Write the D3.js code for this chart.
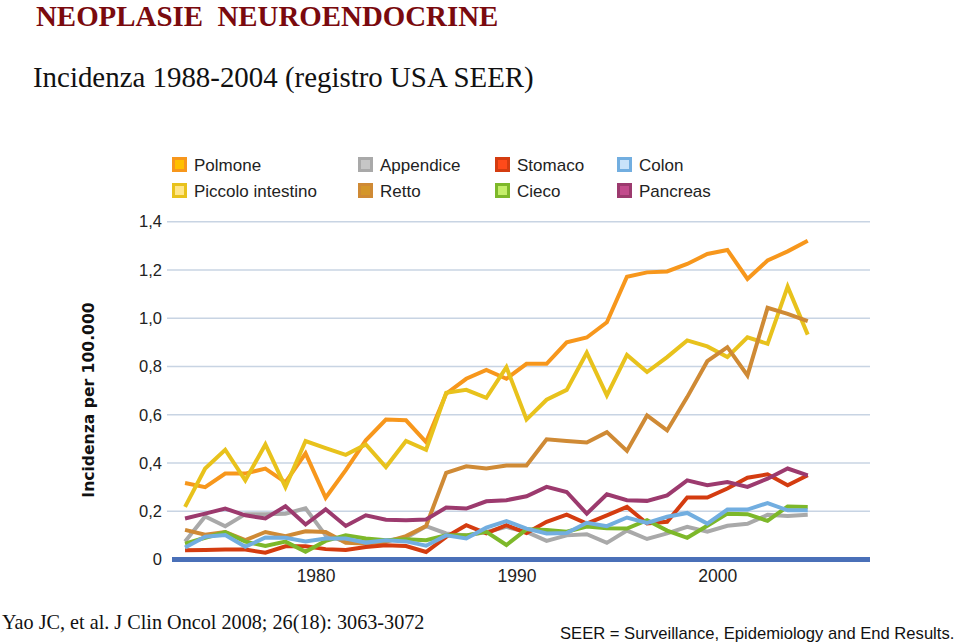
<!DOCTYPE html>
<html>
<head>
<meta charset="utf-8">
<script src="https://cdn.jsdelivr.net/npm/d3@7/dist/d3.min.js"></script>
<style>
  html, body { margin: 0; padding: 0; background: #ffffff; }
  svg { display: block; }
</style>
</head>
<body>
<svg id="chart" width="960" height="643"></svg>
<script>
// ---------- DATA ----------
const years = [1973,1974,1975,1976,1977,1978,1979,1980,1981,1982,1983,1984,1985,1986,1987,1988,
               1989,1990,1991,1992,1993,1994,1995,1996,1997,1998,1999,2000,2001,2002,2003,2004];

const seriesNames = ["Polmone","Piccolo intestino","Appendice","Retto","Stomaco","Cieco","Colon","Pancreas"];

const polmone   = [0.317,0.300,0.356,0.356,0.377,0.320,0.440,0.256,0.370,0.494,0.580,0.577,0.487,0.687,0.749,0.786,
                   0.749,0.811,0.811,0.900,0.920,0.983,1.172,1.190,1.194,1.225,1.266,1.283,1.163,1.239,1.277,1.321];
const piccolo   = [0.218,0.377,0.455,0.328,0.477,0.300,0.491,0.462,0.434,0.477,0.383,0.491,0.455,0.691,0.703,0.670,
                   0.797,0.580,0.662,0.703,0.857,0.680,0.848,0.777,0.839,0.908,0.883,0.839,0.921,0.894,1.131,0.932];
const appendice = [0.075,0.178,0.138,0.188,0.188,0.190,0.212,0.100,0.075,0.075,0.078,0.090,0.138,0.108,0.100,0.114,
                   0.135,0.114,0.077,0.100,0.105,0.069,0.120,0.085,0.108,0.135,0.115,0.140,0.148,0.185,0.180,0.185];
const retto     = [0.123,0.103,0.114,0.080,0.114,0.097,0.117,0.114,0.069,0.066,0.073,0.097,0.139,0.359,0.386,0.377,
                   0.390,0.390,0.498,0.491,0.485,0.528,0.450,0.597,0.535,0.673,0.822,0.880,0.763,1.043,1.018,0.988];
const stomaco   = [0.038,0.039,0.041,0.041,0.028,0.055,0.055,0.043,0.039,0.052,0.059,0.056,0.031,0.094,0.142,0.108,
                   0.142,0.110,0.156,0.186,0.149,0.183,0.218,0.149,0.156,0.257,0.257,0.294,0.339,0.353,0.308,0.349];
const cieco     = [0.066,0.090,0.113,0.074,0.056,0.074,0.032,0.077,0.100,0.087,0.080,0.084,0.080,0.100,0.100,0.115,
                   0.060,0.125,0.122,0.115,0.137,0.130,0.128,0.163,0.120,0.090,0.140,0.190,0.188,0.160,0.220,0.218];
const colon     = [0.050,0.094,0.101,0.053,0.091,0.090,0.075,0.087,0.087,0.070,0.080,0.075,0.057,0.100,0.087,0.132,
                   0.159,0.128,0.108,0.110,0.152,0.138,0.174,0.152,0.177,0.193,0.149,0.207,0.207,0.234,0.204,0.204];
const pancreas  = [0.170,0.190,0.211,0.183,0.170,0.221,0.145,0.208,0.139,0.183,0.165,0.163,0.166,0.215,0.211,0.241,
                   0.246,0.262,0.301,0.280,0.190,0.270,0.246,0.243,0.266,0.328,0.308,0.321,0.301,0.335,0.377,0.349];

const seriesValues = [polmone, piccolo, appendice, retto, stomaco, cieco, colon, pancreas];

const lineColors   = ["#f7971c","#e8c21c","#a9a9a9","#cf8a35","#d43c10","#7db82a","#72aee0","#9c3a6e"];
const swatchFill   = ["#ffc000","#ffe68a","#c6c6c6","#d4962a","#ff4a1a","#c4ee6a","#c9e3fa","#c24b8c"];

const yTicks      = [0, 0.2, 0.4, 0.6, 0.8, 1.0, 1.2, 1.4];
const yTickLabels = ["0","0,2","0,4","0,6","0,8","1,0","1,2","1,4"];
const xTicks      = [1980, 1990, 2000];

// ---------- SCALES ----------
const svg = d3.select("#chart");
const x = d3.scaleLinear().domain([1973, 2007.6]).range([175, 870]);
const y = d3.scaleLinear().domain([0, 1.4]).range([559.5, 221.7]);

// ---------- TITLES ----------
svg.append("text").attr("x", 36).attr("y", 26)
  .attr("font-family", "'Liberation Serif', 'Times New Roman', serif")
  .attr("font-weight", "bold").attr("font-size", 28.9).attr("fill", "#7a0a0e")
  .attr("xml:space", "preserve")
  .text("NEOPLASIE  NEUROENDOCRINE");

svg.append("text").attr("x", 33).attr("y", 87)
  .attr("font-family", "'Liberation Serif', 'Times New Roman', serif")
  .attr("font-size", 28.9).attr("fill", "#111")
  .text("Incidenza 1988-2004 (registro USA SEER)");

// ---------- GRID / Y AXIS ----------
const yAxis = d3.axisLeft(y)
  .tickValues(yTicks)
  .tickSize(0)
  .tickPadding(10)
  .tickFormat((d, i) => yTickLabels[i]);

const gy = svg.append("g").attr("transform", "translate(172,0)").call(yAxis);
gy.select(".domain").remove();
gy.selectAll("text")
  .attr("font-family", "'Liberation Sans', Arial, sans-serif")
  .attr("font-size", 16.5).attr("fill", "#222");

svg.append("g").selectAll("line")
  .data(yTicks.filter(d => d > 0))
  .join("line")
  .attr("x1", 167).attr("x2", 870)
  .attr("y1", d => y(d)).attr("y2", d => y(d))
  .attr("stroke", "#c8d4e3").attr("stroke-width", 1.5);

// ---------- Y LABEL ----------
svg.append("text")
  .attr("transform", "translate(94,400) rotate(-90)")
  .attr("text-anchor", "middle")
  .attr("font-family", "'DejaVu Sans', Verdana, sans-serif")
  .attr("font-weight", "bold").attr("font-size", 15.6).attr("fill", "#111")
  .text("Incidenza per 100.000");

// ---------- LINES ----------
const line = d3.line()
  .x((d, i) => x(years[i] + 0.5))
  .y(d => y(d));

svg.append("g").selectAll("path")
  .data(seriesValues)
  .join("path")
  .attr("d", d => line(d))
  .attr("fill", "none")
  .attr("stroke", (d, i) => lineColors[i])
  .attr("stroke-width", 4)
  .attr("stroke-linejoin", "miter")
  .attr("stroke-linecap", "butt");

// ---------- X AXIS ----------
svg.append("line")
  .attr("x1", 172).attr("x2", 870)
  .attr("y1", y(0)).attr("y2", y(0))
  .attr("stroke", "#4a70b8").attr("stroke-width", 5);

const xAxis = d3.axisBottom(x).tickValues(xTicks).tickSize(0).tickPadding(8).tickFormat(d3.format("d"));
const gx = svg.append("g").attr("transform", `translate(0,${y(0) + 2})`).call(xAxis);
gx.select(".domain").remove();
gx.selectAll("text")
  .attr("font-family", "'Liberation Sans', Arial, sans-serif")
  .attr("font-size", 17.5).attr("fill", "#222");

// ---------- LEGEND ----------
const legendCols = [172, 358, 495, 617];
const legendRows = [165, 191];
const legend = svg.append("g");
seriesNames.forEach((name, i) => {
  const col = Math.floor(i / 2), row = i % 2;
  const lx = legendCols[col], ly = legendRows[row];
  legend.append("rect")
    .attr("x", lx + 1.5).attr("y", ly - 6.5)
    .attr("width", 12).attr("height", 12)
    .attr("fill", swatchFill[i]).attr("stroke", lineColors[i]).attr("stroke-width", 3);
  legend.append("text")
    .attr("x", lx + 22).attr("y", ly + 6)
    .attr("font-family", "'Liberation Sans', Arial, sans-serif")
    .attr("font-size", 17).attr("fill", "#222")
    .text(name);
});

// ---------- FOOTER ----------
svg.append("text").attr("x", 2).attr("y", 629)
  .attr("font-family", "'Liberation Serif', 'Times New Roman', serif")
  .attr("font-size", 20.2).attr("fill", "#111")
  .text("Yao JC, et al. J Clin Oncol 2008; 26(18): 3063-3072");

svg.append("text").attr("x", 560).attr("y", 639)
  .attr("font-family", "'Liberation Sans', Arial, sans-serif")
  .attr("font-size", 16.6).attr("fill", "#111")
  .text("SEER = Surveillance, Epidemiology and End Results.");
</script>
</body>
</html>
